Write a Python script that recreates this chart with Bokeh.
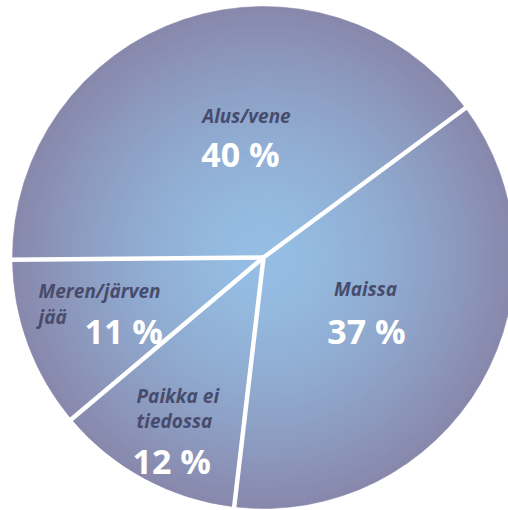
import numpy as np
from bokeh.plotting import figure
from bokeh.models import ColumnDataSource, Range1d
from bokeh.core.properties import value
from bokeh.embed import file_html
from bokeh.resources import INLINE

# ---- data ----
categories = ["Alus/vene", "Meren/järven jää", "Paikka ei tiedossa", "Maissa"]
shares = [40, 11, 12, 37]
pct_labels = ["40 %", "11 %", "12 %", "37 %"]
name_lines = [["Alus/vene"], ["Meren/järven", "jää"], ["Paikka ei", "tiedossa"], ["Maissa"]]

# ---- layout / style ----
W, H = 508, 510
CX, CY, R = 263, 510 - 257, 251
START_DEG = 36.5
C_IN = np.array([0x95, 0xbe, 0xe4])
C_OUT = np.array([0x88, 0x88, 0xac])
LABEL_COLOR = "#484c6c"

p = figure(width=W, height=H, output_backend="svg", toolbar_location=None,
           x_range=Range1d(0, W), y_range=Range1d(0, H), min_border=0)
p.axis.visible = False
p.grid.visible = False
p.outline_line_color = None
p.background_fill_color = "white"
p.border_fill_color = "white"

# slice angles from shares
fr = np.array(shares, dtype=float) / sum(shares)
starts = np.radians(START_DEG) + 2 * np.pi * np.concatenate([[0], np.cumsum(fr)[:-1]])
ends = starts + 2 * np.pi * fr

# radial gradient via stacked wedges (largest first)
N = 90
xs, ys, rs, sa, ea, cols = [], [], [], [], [], []
for k in range(N, 0, -1):
    t = (k / N) ** 1.5
    c = C_IN + (C_OUT - C_IN) * t
    col = "#%02x%02x%02x" % tuple(int(round(v)) for v in c)
    for s, e in zip(starts, ends):
        xs.append(CX); ys.append(CY); rs.append(R * k / N)
        sa.append(s); ea.append(e); cols.append(col)
src = ColumnDataSource(dict(x=xs, y=ys, r=rs, s=sa, e=ea, c=cols))
p.wedge(x="x", y="y", radius="r", start_angle="s", end_angle="e",
        fill_color="c", line_color="c", line_width=0.6, source=src)

# white separators at slice boundaries
p.ray(x=[CX] * len(starts), y=[CY] * len(starts), length=R + 2, angle=list(starts),
      line_color="white", line_width=4.5)

# label positions (pixel coords, baseline)
name_pos = [[(246, 115, "center")],
            [(38, 290, "left"), (38, 316, "left")],
            [(136, 395, "left"), (136, 420, "left")],
            [(365, 288, "center")]]
pct_pos = [(240, 153, "center"), (84, 330, "left"), (132, 460, "left"), (366, 330, "center")]

for lines, poss in zip(name_lines, name_pos):
    for txt, (x, y, al) in zip(lines, poss):
        p.text(x=[x], y=[H - y], text=[txt], text_font=value("Open Sans"),
               text_font_style="bold italic", text_font_size="19px",
               text_color=LABEL_COLOR, text_align=al, text_baseline="alphabetic")

for txt, (x, y, al) in zip(pct_labels, pct_pos):
    p.text(x=[x], y=[H - y], text=[txt], text_font=value("Open Sans"),
           text_font_style="bold", text_font_size="34px",
           text_color="white", text_align=al, text_baseline="alphabetic")

open("out.html", "w").write(file_html(p, INLINE))
